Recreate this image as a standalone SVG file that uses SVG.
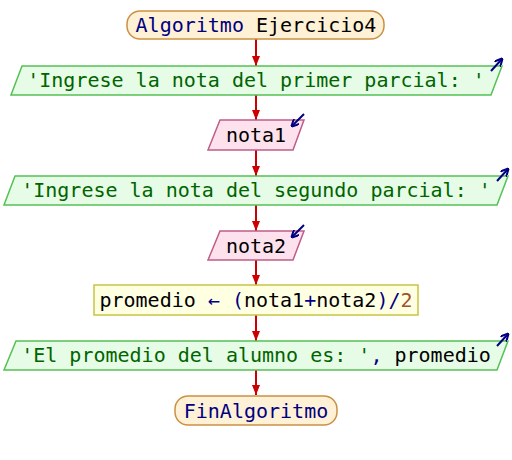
<svg xmlns="http://www.w3.org/2000/svg" width="512" height="460" viewBox="0 0 512 460">
  <style>
    text { font-family: "DejaVu Sans Mono", "Liberation Mono", monospace; font-size: 20px; text-anchor: middle; }
    .term { fill: #fff1d6; stroke: #cc9044; stroke-width: 1.5; }
    .out { fill: #e6fce6; stroke: #55c055; stroke-width: 1.5; }
    .in { fill: #fde2ee; stroke: #c05c88; stroke-width: 1.5; }
    .asg { fill: #ffffe2; stroke: #c8c444; stroke-width: 1.5; }
    .kw { fill: #000080; }
    .id { fill: #000000; }
    .str { fill: #006400; }
    .op { fill: #000080; }
    .num { fill: #a0522d; }
    .flow { stroke: #cc0000; stroke-width: 2; fill: none; marker-end: url(#arrow); }
    .io { stroke: #000080; stroke-width: 2; fill: none; marker-end: url(#ioHead); }
  </style>
  <defs>
    <marker id="arrow" viewBox="0 0 10 8" refX="10" refY="4" markerWidth="10" markerHeight="8" markerUnits="userSpaceOnUse" orient="auto">
      <path d="M0,0 L10,4 L0,8 Z" fill="#cc0000"/>
    </marker>
    <marker id="ioHead" viewBox="0 0 8 8" refX="7" refY="4" markerWidth="8" markerHeight="8" markerUnits="userSpaceOnUse" orient="auto">
      <path d="M0,0 L8,4 L0,8" fill="none" stroke="#000080" stroke-width="2"/>
    </marker>
  </defs>

  <g id="connectors">
    <line class="flow" x1="256" y1="39" x2="256" y2="66"/>
    <line class="flow" x1="256" y1="95" x2="256" y2="120"/>
    <line class="flow" x1="256" y1="150" x2="256" y2="176"/>
    <line class="flow" x1="256" y1="205" x2="256" y2="231"/>
    <line class="flow" x1="256" y1="260" x2="256" y2="285"/>
    <line class="flow" x1="256" y1="315" x2="256" y2="341"/>
    <line class="flow" x1="256" y1="370" x2="256" y2="395"/>
  </g>

  <g id="start">
    <rect class="term" x="127" y="11" width="257" height="28" rx="13"/>
    <text x="256" y="32"><tspan class="kw">Algoritmo</tspan><tspan class="id"> Ejercicio4</tspan></text>
  </g>

  <g id="out1">
    <polygon class="out" points="22,66 502,66 491,95 11,95"/>
    <text class="str" x="256" y="87">'Ingrese la nota del primer parcial: '</text>
    <line class="io" x1="491" y1="71" x2="502" y2="59"/>
  </g>

  <g id="in1">
    <polygon class="in" points="220,120 304,120 293,150 208,150"/>
    <text class="id" x="256" y="142">nota1</text>
    <line class="io" x1="304" y1="114" x2="292" y2="126"/>
  </g>

  <g id="out2">
    <polygon class="out" points="15,176 508,176 497,205 4,205"/>
    <text class="str" x="256" y="197">'Ingrese la nota del segundo parcial: '</text>
    <line class="io" x1="497" y1="181" x2="508" y2="169"/>
  </g>

  <g id="in2">
    <polygon class="in" points="220,231 304,231 293,260 208,260"/>
    <text class="id" x="256" y="253">nota2</text>
    <line class="io" x1="304" y1="225" x2="292" y2="237"/>
  </g>

  <g id="assign">
    <rect class="asg" x="94" y="285" width="324" height="30"/>
    <text x="256" y="307"><tspan class="id">promedio </tspan><tspan class="op">← (</tspan><tspan class="id">nota1</tspan><tspan class="op">+</tspan><tspan class="id">nota2</tspan><tspan class="op">)/</tspan><tspan class="num">2</tspan></text>
  </g>

  <g id="out3">
    <polygon class="out" points="16,341 508,341 497,370 4,370"/>
    <text x="256" y="362"><tspan class="str">'El promedio del alumno es: '</tspan><tspan class="op">, </tspan><tspan class="id">promedio</tspan></text>
    <line class="io" x1="497" y1="346" x2="508" y2="334"/>
  </g>

  <g id="end">
    <rect class="term" x="175" y="396" width="162" height="29" rx="13"/>
    <text class="kw" x="256" y="418">FinAlgoritmo</text>
  </g>
</svg>
